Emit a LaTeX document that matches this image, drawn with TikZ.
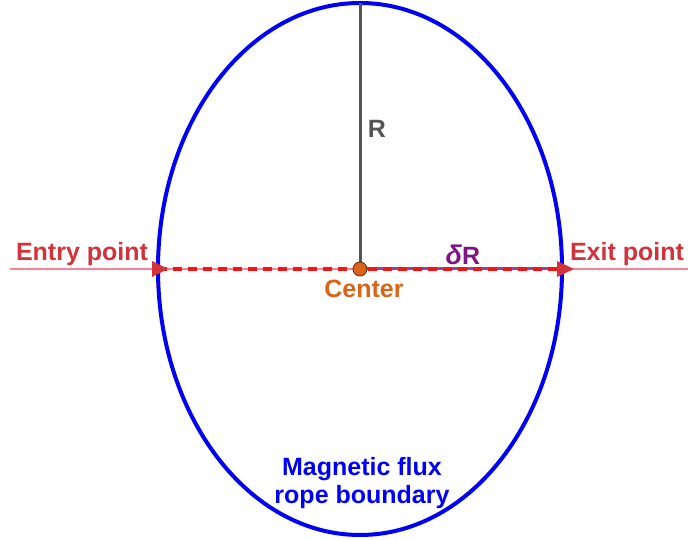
\documentclass[tikz,border=0pt]{standalone}
\usepackage{fontspec}
\setmainfont{Liberation Sans}
\usetikzlibrary{arrows.meta,shapes.geometric,calc}
\definecolor{ropeblue}{RGB}{0,0,245}
\definecolor{txtred}{RGB}{210,50,58}
\definecolor{dashred}{RGB}{245,20,20}
\definecolor{axispink}{RGB}{250,130,150}
\definecolor{drpurple}{RGB}{128,20,128}
\definecolor{rgray}{RGB}{85,85,85}
\definecolor{ctrorange}{RGB}{220,100,25}
\definecolor{dotedge}{RGB}{90,40,20}
\begin{document}
\begin{tikzpicture}[x=1pt,y=1pt,
  lbl/.style={font=\bfseries\fontsize{25}{28}\selectfont, inner sep=0pt},
  axis/.style={draw=axispink, line width=1.6pt},
  tip/.style={fill=txtred, draw=none},
]
\useasboundingbox (0,0) rectangle (688,540);
% boundary
\node[ellipse, draw=ropeblue, line width=4pt, minimum width=404pt, minimum height=532pt, inner sep=0pt, outer sep=0pt] (rope) at (360,271) {};
\coordinate (C) at (rope.center);
\coordinate (entry) at (rope.west);
\coordinate (exit) at (rope.east);
\coordinate (top) at (rope.north);
\coordinate (farL) at (10,271);
\coordinate (farR) at (688,271);
% axis through rope
\draw[axis] (farL) -- (farR);
% radius
\draw[rgray, line width=3pt] (C) -- (top);
% delta R
\draw[drpurple!80, line width=3pt] (C) -- (exit);
% trajectory
\draw[dashred, line width=3.2pt, dash pattern=on 9pt off 6pt] (entry) -- (exit);
% arrow heads
\fill[tip] ($(entry)+(-6,8)$) -- ($(entry)+(10,0)$) -- ($(entry)+(-6,-8)$) -- cycle;
\fill[tip] ($(exit)+(-5,8)$) -- ($(exit)+(12,0)$) -- ($(exit)+(-5,-8)$) -- cycle;
% center dot
\node[circle, fill=ctrorange, draw=dotedge, line width=0.8pt, minimum size=14pt, inner sep=0pt] (cdot) at (C) {};
% labels
\node[lbl, text=txtred] (entrylbl) at (82,286) {Entry point};
\node[lbl, text=txtred] (exitlbl) at (627,286) {Exit point};
\node[lbl, text=rgray] (rlbl) at (377,411) {R};
\node[lbl, text=drpurple] (drlbl) at (463,285) {{\itshape\fontsize{27}{28}\selectfont δ}R};
\node[lbl, text=ctrorange] (clbl) at (364,251) {Center};
\node[lbl, text=ropeblue, align=center] (ropelbl) at (362,57) {Magnetic flux\\rope boundary};
\end{tikzpicture}
\end{document}
